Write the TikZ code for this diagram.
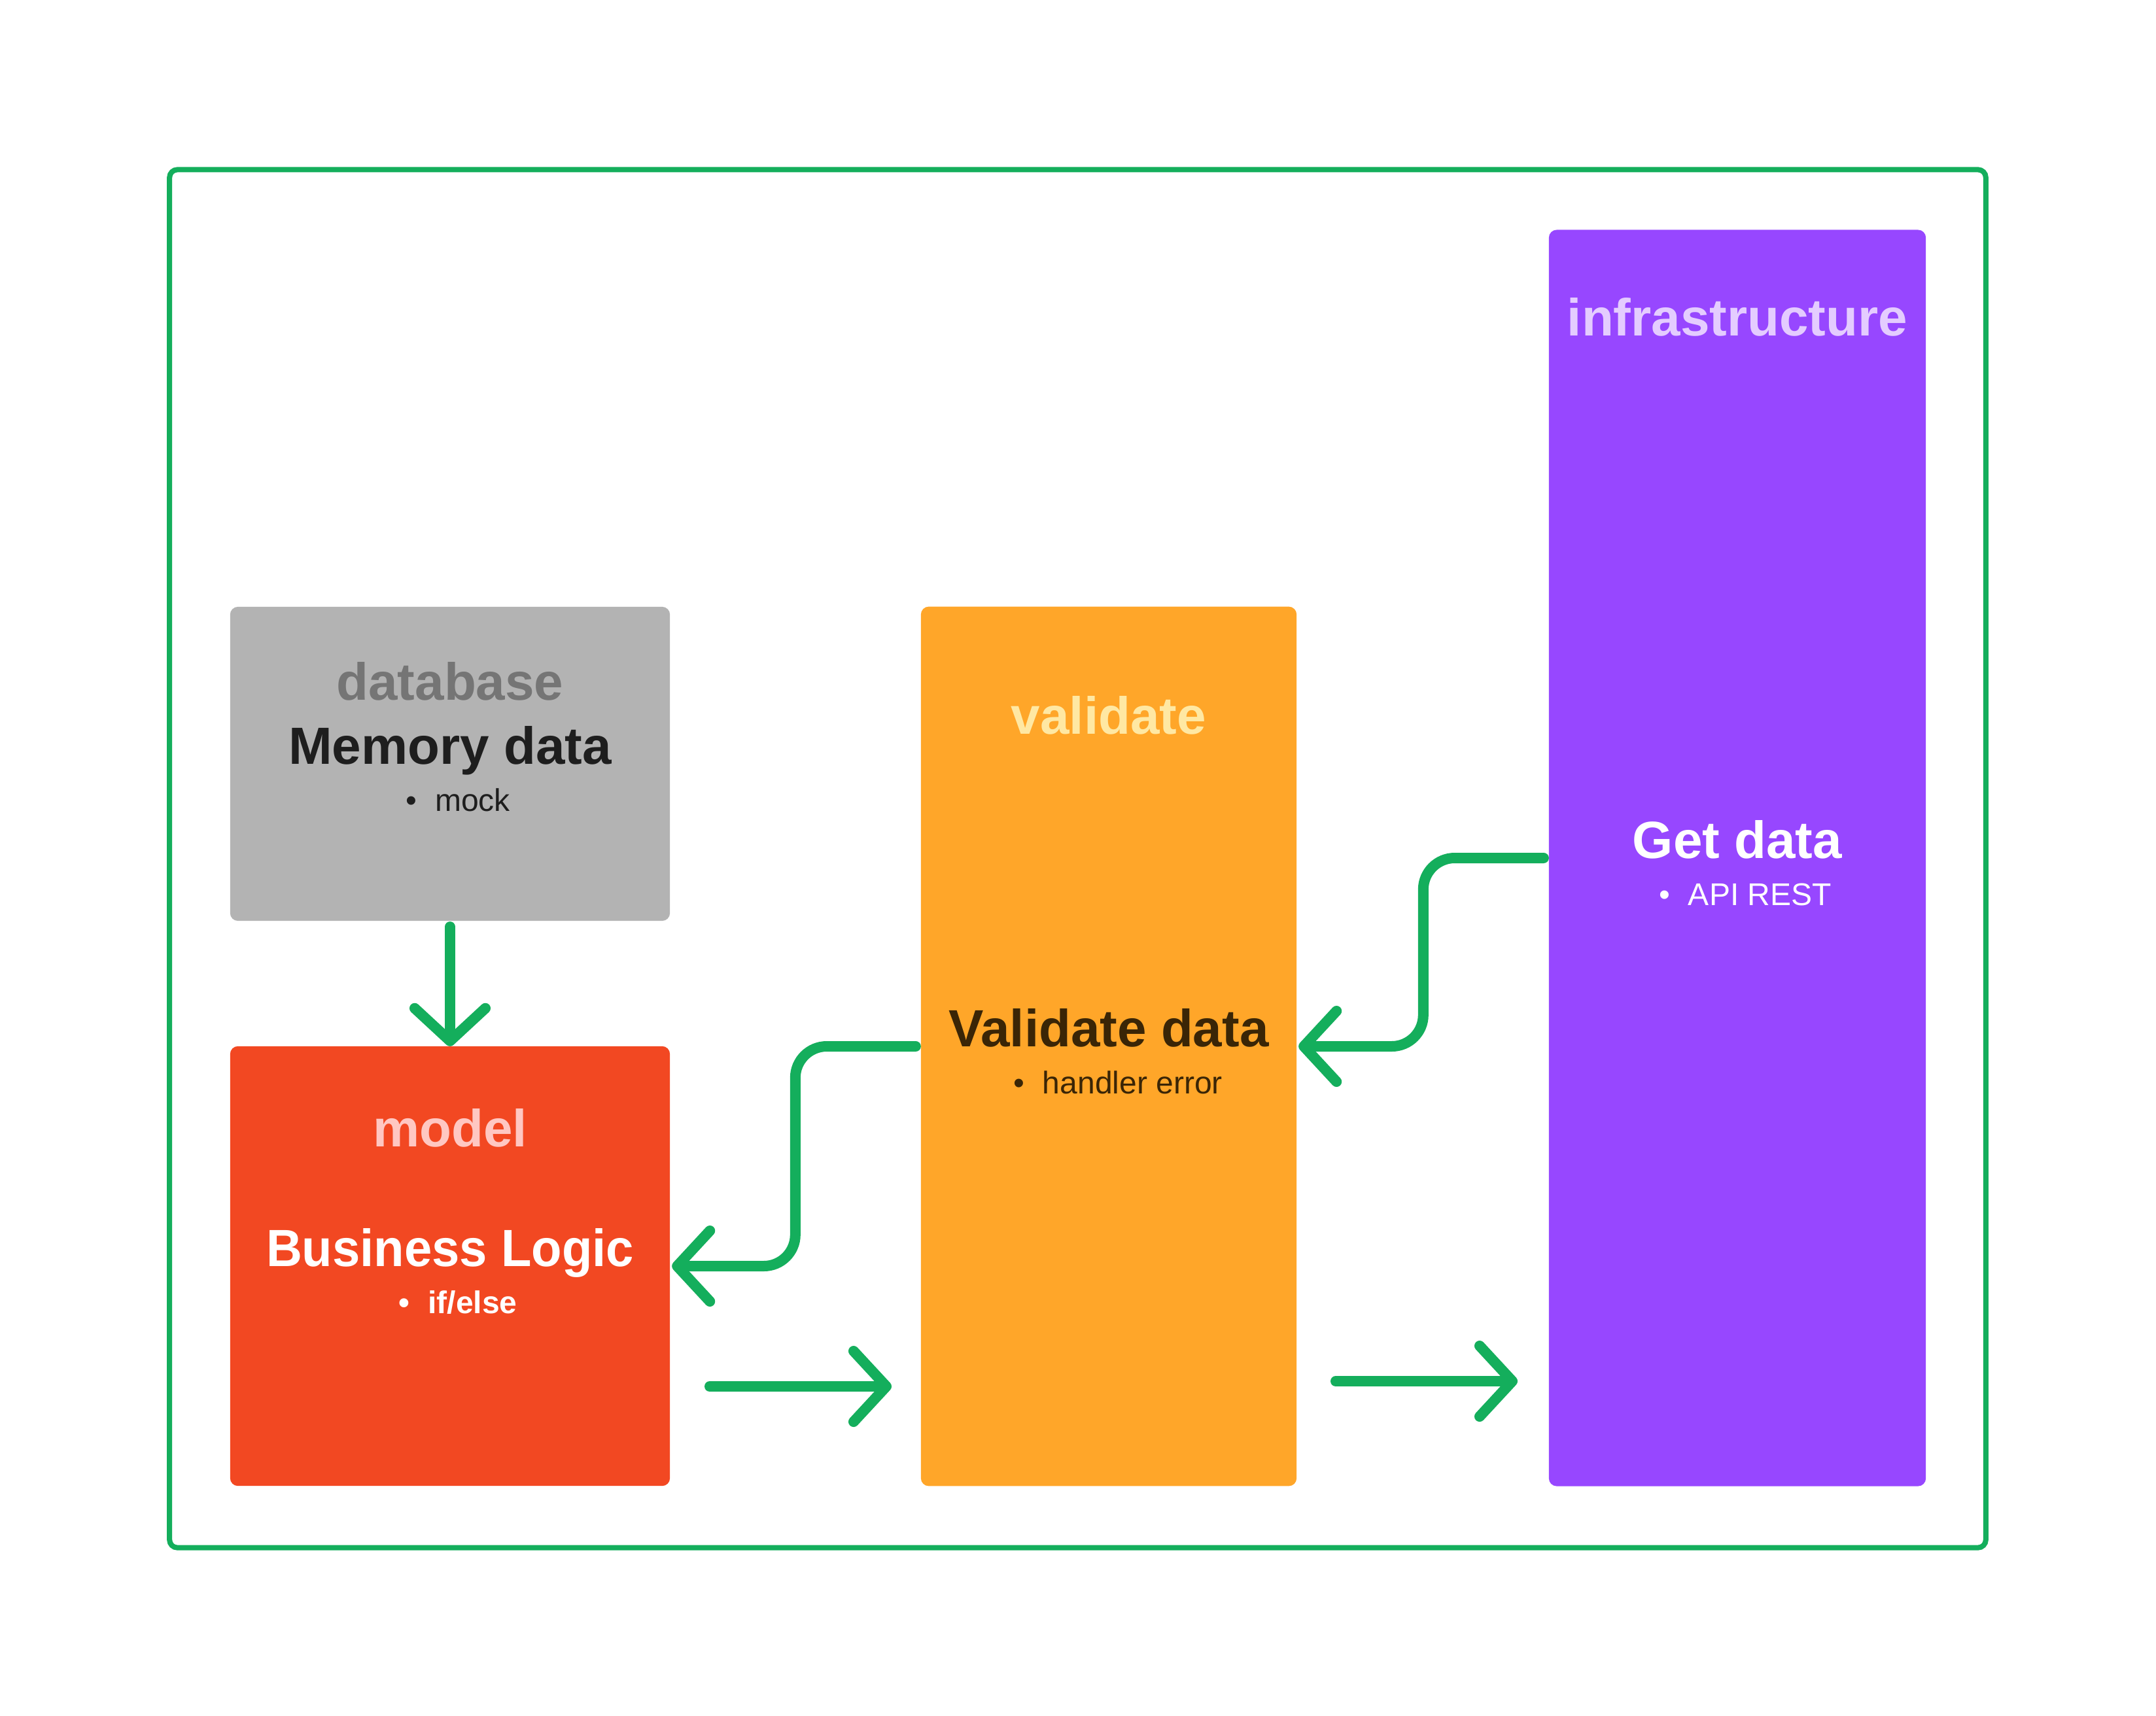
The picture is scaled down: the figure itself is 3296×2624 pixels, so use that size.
\documentclass[tikz,border=0pt]{standalone}
\usepackage{fontspec}
\setmainfont{Liberation Sans}
\newfontfamily\narrowsans[FakeStretch=0.95]{Liberation Sans}
\usetikzlibrary{arrows.meta}
\definecolor{grn}{HTML}{14AE5C}
\definecolor{dbgray}{HTML}{B3B3B3}
\definecolor{dbtitle}{HTML}{757575}
\definecolor{darktxt}{HTML}{1E1E1E}
\definecolor{mred}{HTML}{F24822}
\definecolor{mtitle}{HTML}{FFC7C2}
\definecolor{vorange}{HTML}{FFA629}
\definecolor{vtitle}{HTML}{FFE8A3}
\definecolor{browntxt}{HTML}{3A2506}
\definecolor{ipurple}{HTML}{9747FF}
\definecolor{ititle}{HTML}{E4CCFF}
\begin{document}
\begin{tikzpicture}[x=0.01cm,y=-0.01cm,
  box/.style={rectangle, rounded corners=0.12cm, inner sep=0, outer sep=0, draw=none},
  ttl/.style={anchor=base, inner sep=0, font=\fontsize{22.76pt}{26pt}\selectfont\bfseries},
  sub/.style={anchor=base, inner sep=0, font=\fontsize{13.66pt}{16pt}\selectfont},
  subb/.style={anchor=base, inner sep=0, font=\fontsize{13.66pt}{16pt}\selectfont\bfseries},
  arr/.style={draw=grn, line width=0.16cm, line cap=round, line join=round,
    -{Straight Barb[length=0.5cm,width=1.08cm,round]}}]
\useasboundingbox (0,0) rectangle (3296,2624);
\fill[white] (0,0) rectangle (3296,2624);
\node[draw=grn, line width=0.08cm, rounded corners=0.12cm, minimum width=27.75cm,
  minimum height=21.06cm, inner sep=0, outer sep=0] (frame) at (1647.5,1313) {};
% boxes
\node[box, fill=dbgray, minimum width=6.72cm, minimum height=4.8cm] (db) at (688,1168) {};
\node[box, fill=mred, minimum width=6.72cm, minimum height=6.72cm] (model) at (688,1936) {};
\node[box, fill=vorange, minimum width=5.74cm, minimum height=13.44cm] (valid) at (1695,1600) {};
\node[box, fill=ipurple, minimum width=5.76cm, minimum height=19.2cm] (infra) at (2656,1312) {};
% texts
\node[ttl, text=dbtitle] (dbT) at (688,1070) {database};
\node[ttl, text=darktxt] (dbL) at (688,1168) {Memory data};
\node[sub, text=darktxt] (dbB) at (700,1240) {\textbullet\hspace{0.28cm}mock};
\node[ttl, text=mtitle] (mT) at (688,1753) {model};
\node[ttl, text=white] (mL) at (688,1936) {\narrowsans\bfseries Business Logic};
\node[subb, text=white] (mB) at (700,2008) {\textbullet\hspace{0.28cm}if/else};
\node[ttl, text=vtitle] (vT) at (1695,1122) {validate};
\node[ttl, text=browntxt] (vL) at (1695,1600) {Validate data};
\node[sub, text=browntxt] (vB) at (1709,1672) {\textbullet\hspace{0.28cm}handler error};
\node[ttl, text=ititle] (iT) at (2656,513) {infrastructure};
\node[ttl, text=white] (iL) at (2656,1312) {Get data};
\node[sub, text=white] (iB) at (2668,1384) {\textbullet\hspace{0.28cm}API REST};
% connectors
\draw[arr] ([yshift=-0.09cm]db.south) -- (model.north);
\draw[arr, rounded corners=0.48cm] ([xshift=-0.08cm]valid.west) -- ++(-184,0) |- ([xshift=0.03cm]model.east);
\draw[arr, rounded corners=0.48cm] ([xshift=-0.08cm]infra.west) -- ++(-184,0) |- ([xshift=0.03cm]valid.east);
\coordinate (s4) at (1085,2120);
\coordinate (e4) at (1363,2120);
\coordinate (s5) at (2042,2112);
\coordinate (e5) at (2320,2112);
\draw[arr] (s4) -- (e4);
\draw[arr] (s5) -- (e5);
\end{tikzpicture}
\end{document}
